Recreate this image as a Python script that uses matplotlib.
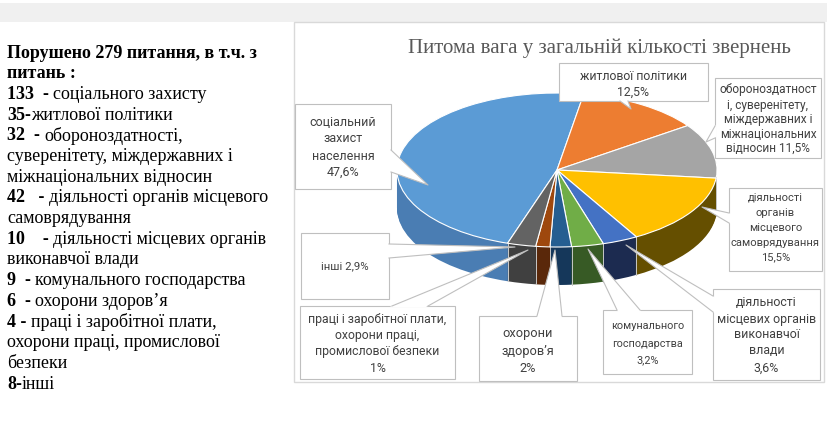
import matplotlib
matplotlib.use('Agg')
import matplotlib.pyplot as plt
from matplotlib.patches import Rectangle, Polygon
from matplotlib.transforms import Affine2D
import numpy as np

# --- data -------------------------------------------------------------
title = 'Питома вага у загальній кількості звернень'
counts = [133, 35, 32, 42, 10, 9, 6, 4, 8]
label_texts = [
    ['соціальний', 'захист', 'населення', '47,6%'],
    ['житлової політики', '12,5%'],
    ['обороноздатност', 'і, суверенітету,', 'міждержавних і', 'міжнаціональних', 'відносин 11,5%'],
    ['діяльності', 'органів', 'місцевого', 'самоврядування', '15,5%'],
    ['діяльності', 'місцевих органів', 'виконавчої', 'влади', '3,6%'],
    ['комунального', 'господарства', '3,2%'],
    ['охорони', 'здоров’я', '2%'],
    ['праці і заробітної плати,', 'охорони праці,', 'промислової безпеки', '1%'],
    ['інші 2,9%'],
]
top_colors = ['#5B9BD5', '#ED7D31', '#A5A5A5', '#FFC000', '#4472C4',
              '#70AD47', '#255E91', '#9E480E', '#636363']
side_colors = ['#4a7db3', '#8a4418', '#5c5c5c', '#654f00', '#1c2b50',
               '#375a25', '#15375a', '#5a280a', '#404040']

# left hand text: (text, bold) segments per line
left_lines = [
    [('Порушено 279 питання, в т.ч. з', True)],
    [('питань :', True)],
    [('133  - ', True), ('соціального захисту', False)],
    [('35-', True), ('житлової політики', False)],
    [('32  - ', True), ('обороноздатності,', False)],
    [('суверенітету, міждержавних і', False)],
    [('міжнаціональних відносин', False)],
    [('42   - ', True), ('діяльності органів місцевого', False)],
    [('самоврядування', False)],
    [('10    - ', True), ('діяльності місцевих органів', False)],
    [('виконавчої влади', False)],
    [('9  - ', True), ('комунального господарства', False)],
    [('6  - ', True), ('охорони здоров’я', False)],
    [('4 - ', True), ('праці і заробітної плати,', False)],
    [('охорони праці, промислової', False)],
    [('безпеки', False)],
    [('8-', True), ('інші', False)],
]

# --- layout (pixels) ---------------------------------------------------
W, H = 828, 438
cx, cy, a, b, depth = 557, 170, 160, 77, 38
start = 252

# box (x0, y0, x1, y1), line y's, pointer base p1, p2, tip, font size
callouts = [
    ((295, 104, 391, 189), [123, 139, 156, 172], (391, 150), (391, 172), (428, 185), 9.0),
    ((559, 63, 708, 101), [76, 92], (620, 101), (628, 101), (631, 109), 8.8),
    ((715, 78, 821, 158), [90, 105, 120, 134, 148], (715, 126), (715, 138), (706, 142), 8.6),
    ((729, 188, 822, 271), [198, 213, 228, 243, 257], (729, 213), (729, 223), (702, 207), 8.0),
    ((713, 289, 820, 380), [303, 319, 335, 351, 368], (713, 296), (713, 312), (626, 245), 8.9),
    ((603, 310, 692, 374), [326, 344, 360], (617, 310), (640, 310), (588, 249), 7.8),
    ((479, 316, 577, 381), [334, 351, 369], (537, 316), (562, 316), (555, 250), 9.2),
    ((300, 306, 455, 379), [320, 336, 352, 369], (392, 306), (428, 306), (528, 250), 8.8),
    ((301, 233, 389, 299), [266], (389, 244), (389, 258), (515, 247), 8.2),
]

label_font = ['Roboto', 'DejaVu Sans']
serif = ['Liberation Serif', 'DejaVu Serif']

fig = plt.figure(figsize=(W / 100, H / 100), dpi=100)
ax = fig.add_axes([0, 0, 1, 1])

ax.add_patch(Rectangle((0, 3), W, 19, facecolor='#f0f0f0', lw=0, zorder=0))
ax.add_patch(Rectangle((294, 22), 530, 360, facecolor='white',
                       edgecolor='#d9d9d9', lw=1, zorder=1))

pie_tr = Affine2D().scale(a, -b).translate(cx, cy) + ax.transData

# side of the 3d pie: stacked dark pies
for k in range(depth, 0, -1):
    wedges, _ = ax.pie(counts, colors=side_colors, startangle=start,
                       counterclock=False, center=(0, -k / b),
                       wedgeprops=dict(linewidth=0))
    for w in wedges:
        w.set_transform(pie_tr)
        w.set_zorder(2)

# separators on the side wall
bounds = start - 360 * np.cumsum([0] + counts) / sum(counts)
for ang in bounds:
    t = np.deg2rad(ang)
    if np.sin(t) < -0.02:
        ax.plot([np.cos(t), np.cos(t)], [np.sin(t), np.sin(t) - depth / b],
                color='#c8c8c8', lw=0.7, transform=pie_tr, zorder=3)

wedges, _ = ax.pie(counts, colors=top_colors, startangle=start,
                   counterclock=False,
                   wedgeprops=dict(edgecolor='white', linewidth=0.8))
for w in wedges:
    w.set_transform(pie_tr)
    w.set_zorder(4)

# callouts
for (box, ys, p1, p2, tip, fs), lines in zip(callouts, label_texts):
    x0, y0, x1, y1 = box
    ax.add_patch(Rectangle((x0, y0), x1 - x0, y1 - y0, facecolor='white',
                           edgecolor='#bfbfbf', lw=0.8, zorder=5))
    mid = np.array([(p1[0] + p2[0]) / 2, (p1[1] + p2[1]) / 2])
    v = mid - np.array(tip)
    v = v / np.hypot(*v) * 2.5
    ax.add_patch(Polygon([p1, tip, p2, tuple(np.array(p2) + v), tuple(np.array(p1) + v)],
                         closed=True, facecolor='white', lw=0, zorder=6))
    ax.plot([p1[0], tip[0], p2[0]], [p1[1], tip[1], p2[1]],
            color='#bfbfbf', lw=0.8, zorder=6)
    xc = (x0 + x1) / 2
    for y, line in zip(ys, lines):
        ax.text(xc, y, line, ha='center', va='center', fontsize=fs,
                family=label_font, color='#404040', zorder=7)

ax.text(599, 48, title, ha='center', va='center', fontsize=15,
        family=serif, color='#595959', zorder=7)

# left text with bold / regular runs
renderer = fig.canvas.get_renderer()


def text_width(s, bold):
    w = 'bold' if bold else 'normal'
    t1 = ax.text(0, 0, s + '|', fontsize=13, family=serif, weight=w)
    t2 = ax.text(0, 0, '|', fontsize=13, family=serif, weight=w)
    width = t1.get_window_extent(renderer).width - t2.get_window_extent(renderer).width
    t1.remove()
    t2.remove()
    return width


y = 53
for segs in left_lines:
    x = 7
    for s, bold in segs:
        ax.text(x, y, s, ha='left', va='center', fontsize=13, family=serif,
                weight='bold' if bold else 'normal', color='black', zorder=7)
        x += text_width(s, bold)
    y += 20.7

ax.set_aspect('auto')
ax.set_xlim(0, W)
ax.set_ylim(H, 0)
ax.axis('off')

fig.savefig('out.png', dpi=100)
